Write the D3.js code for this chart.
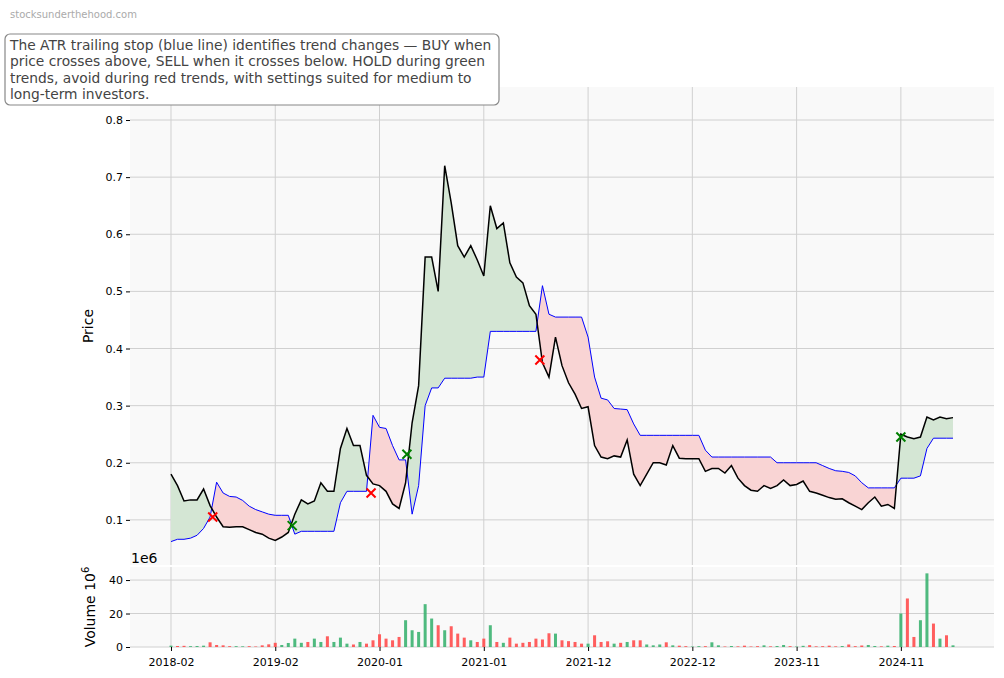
<!DOCTYPE html>
<html>
<head>
<meta charset="utf-8">
<script src="https://cdn.jsdelivr.net/npm/d3@7"></script>
<style>
  body { margin: 0; background: #fff; font-family: "DejaVu Sans", sans-serif; }
</style>
</head>
<body>
<script>
// one point every 3 weeks, index 0 = 2018-02
const price = [0.18,0.16,0.133,0.135,0.135,0.154,0.125,0.105,0.088,0.087,
  0.088,0.088,0.083,0.078,0.075,0.068,0.064,0.07,0.078,0.11,
  0.135,0.128,0.133,0.165,0.15,0.15,0.225,0.26,0.23,0.23,
  0.178,0.163,0.16,0.15,0.128,0.12,0.165,0.27,0.335,0.56,
  0.56,0.5,0.72,0.655,0.58,0.56,0.58,0.555,0.527,0.65,
  0.61,0.62,0.55,0.525,0.515,0.475,0.46,0.375,0.35,0.42,
  0.37,0.34,0.32,0.295,0.298,0.23,0.21,0.207,0.212,0.21,
  0.24,0.18,0.16,0.18,0.2,0.2,0.196,0.23,0.208,0.207,
  0.207,0.207,0.185,0.19,0.19,0.182,0.195,0.173,0.16,0.152,
  0.15,0.16,0.155,0.16,0.17,0.16,0.162,0.168,0.15,0.147,
  0.143,0.139,0.136,0.137,0.13,0.124,0.118,0.13,0.14,0.124,
  0.127,0.12,0.25,0.245,0.242,0.245,0.28,0.275,0.28,0.277,0.279];

const stop = [0.062,0.066,0.066,0.068,0.073,0.085,0.105,0.166,0.147,0.141,
  0.14,0.134,0.124,0.118,0.114,0.11,0.108,0.108,0.108,0.075,
  0.08,0.08,0.08,0.08,0.08,0.08,0.13,0.15,0.15,0.15,
  0.15,0.283,0.262,0.26,0.23,0.205,0.205,0.11,0.16,0.3,
  0.331,0.331,0.348,0.348,0.348,0.348,0.348,0.35,0.35,0.43,
  0.43,0.43,0.43,0.43,0.43,0.43,0.43,0.51,0.46,0.455,
  0.455,0.455,0.455,0.455,0.42,0.35,0.313,0.31,0.295,0.294,
  0.293,0.268,0.248,0.248,0.248,0.248,0.248,0.248,0.248,0.248,
  0.248,0.248,0.222,0.21,0.21,0.21,0.21,0.21,0.21,0.21,
  0.21,0.21,0.21,0.2,0.2,0.2,0.2,0.2,0.2,0.2,
  0.195,0.19,0.186,0.185,0.183,0.177,0.165,0.156,0.156,0.156,
  0.156,0.156,0.173,0.173,0.173,0.177,0.225,0.243,0.243,0.243,0.243];

// volume in millions
const volume = [0.8,0.6,0.7,0.5,0.6,0.8,2.8,1.2,1,0.5,
  0.5,0.4,0.5,0.3,1,1.6,2.5,1.2,2.4,5,
  2.5,3,5,3,6.4,3,5.6,2,1.5,3,
  2,4,7.6,5,4,6,16,10,9,25.6,
  17,13,10,12.4,8,5.6,4,3,5,13,
  3,2.5,5.6,2,2.5,3,5,4.5,8.2,8,
  4,3.5,3,2,2,7,3,3.4,2,2.5,
  3,4,4,1.5,1,1.5,2.8,1,0.8,0.5,
  0.3,0.5,0.5,2.8,1,0.3,0.6,0.4,0.8,0.3,
  0.5,1,0.4,0.6,1.2,0.5,0.3,0.7,1.1,0.4,
  0.5,0.8,0.4,0.6,1.5,0.5,0.9,1.2,0.6,0.4,
  0.8,0.6,20,29,6,16,44,14,5,7,1];

const buys = [[18.6, 0.09], [36.2, 0.215], [112, 0.245]];
const sells = [[6.4, 0.105], [30.7, 0.147], [56.6, 0.38]];

const tickIdx = [0, 16, 32, 48, 64, 80, 96, 112];
const tickLabels = ["2018-02","2019-02","2020-01","2021-01","2021-12","2022-12","2023-11","2024-11"];
const priceTicks = [0.1,0.2,0.3,0.4,0.5,0.6,0.7,0.8];
const volTicks = [0, 20, 40];

const W = 1004, H = 678;
const L = 130, R = 994;
const svg = d3.select("body").append("svg").attr("width", W).attr("height", H);

const x = d3.scaleLinear().domain([-6.29, 126.29]).range([L, R]);
const y = d3.scaleLinear().domain([0.0210, 0.8578]).range([565, 87]);
const yv = d3.scaleLinear().domain([0, 47.8]).range([647, 567]);

// panels
svg.append("rect").attr("x", L).attr("y", 87).attr("width", R - L).attr("height", 478).attr("fill", "#f9f9f9");
svg.append("rect").attr("x", L).attr("y", 567).attr("width", R - L).attr("height", 80).attr("fill", "#f9f9f9");

const grid = svg.append("g").attr("stroke", "#d0d0d0").attr("stroke-width", 1);
tickIdx.forEach(t => {
  grid.append("line").attr("x1", x(t)).attr("x2", x(t)).attr("y1", 87).attr("y2", 565);
  grid.append("line").attr("x1", x(t)).attr("x2", x(t)).attr("y1", 567).attr("y2", 647);
});
priceTicks.forEach(t => grid.append("line").attr("x1", L).attr("x2", R).attr("y1", y(t)).attr("y2", y(t)));
volTicks.forEach(t => grid.append("line").attr("x1", L).attr("x2", R).attr("y1", yv(t)).attr("y2", yv(t)));

// fills between price and stop
const idx = d3.range(price.length);
const between = d3.area().x(i => x(i)).y0(i => y(stop[i])).y1(i => y(price[i]));
const defs = svg.append("defs");
defs.append("clipPath").attr("id", "above").append("path")
  .attr("d", d3.area().x(i => x(i)).y0(i => y(stop[i])).y1(0)(idx));
defs.append("clipPath").attr("id", "below").append("path")
  .attr("d", d3.area().x(i => x(i)).y0(i => y(stop[i])).y1(H)(idx));
svg.append("path").attr("d", between(idx)).attr("fill", "#d4e6d4").attr("clip-path", "url(#above)");
svg.append("path").attr("d", between(idx)).attr("fill", "#f9d4d4").attr("clip-path", "url(#below)");

const line = arr => d3.line().x(i => x(i)).y(i => y(arr[i]))(idx);
svg.append("path").attr("d", line(stop)).attr("fill", "none").attr("stroke", "#0000ff").attr("stroke-width", 1);
svg.append("path").attr("d", line(price)).attr("fill", "none").attr("stroke", "#000").attr("stroke-width", 1.5);

function cross(g, d, color) {
  const cx = x(d[0]), cy = y(d[1]), s = 4.5;
  g.append("path").attr("d", `M${cx - s},${cy - s}L${cx + s},${cy + s}M${cx - s},${cy + s}L${cx + s},${cy - s}`)
    .attr("stroke", color).attr("stroke-width", 2);
}
const mk = svg.append("g");
buys.forEach(d => cross(mk, d, "#008000"));
sells.forEach(d => cross(mk, d, "#ff0000"));

// volume bars
svg.append("g").selectAll("rect").data(idx).join("rect")
  .attr("x", i => x(i) - 1.5).attr("width", 3)
  .attr("y", i => yv(volume[i])).attr("height", i => yv(0) - yv(volume[i]))
  .attr("fill", i => (i === 0 || price[i] >= price[i - 1]) ? "#3cb371" : "#ff4d4d")
  .attr("opacity", 0.9);

// axes
const yAxis = d3.axisLeft(y).tickValues(priceTicks).tickSize(4).tickFormat(d3.format(".1f"));
const ga = svg.append("g").attr("transform", `translate(${L},0)`).call(yAxis);
const gv = svg.append("g").attr("transform", `translate(${L},0)`).call(d3.axisLeft(yv).tickValues(volTicks).tickSize(4));
const gx = svg.append("g").attr("transform", `translate(0,647)`)
  .call(d3.axisBottom(x).tickValues(tickIdx).tickSize(4).tickFormat((d, i) => tickLabels[i]));
[ga, gv, gx].forEach(g => {
  g.select(".domain").remove();
  g.selectAll("text").attr("font-size", 11).attr("fill", "#000").attr("font-family", "DejaVu Sans");
  g.selectAll("line").attr("stroke", "#000");
});
gx.selectAll("text").attr("dy", "1.1em");

svg.append("text").attr("transform", "translate(93,326) rotate(-90)").attr("text-anchor", "middle")
  .attr("font-size", 14).text("Price");
const vl = svg.append("text").attr("transform", "translate(95,607) rotate(-90)").attr("text-anchor", "middle")
  .attr("font-size", 14);
vl.append("tspan").text("Volume  10");
vl.append("tspan").attr("font-size", 10).attr("dy", -6).text("6");
svg.append("text").attr("x", 131).attr("y", 563).attr("font-size", 14).text("1e6");

// title box and watermark
svg.append("text").attr("x", 10).attr("y", 18).attr("font-size", 10).attr("fill", "#aaa").text("stocksunderthehood.com");
svg.append("rect").attr("x", 5).attr("y", 34).attr("width", 494).attr("height", 71).attr("rx", 5)
  .attr("fill", "#fff").attr("stroke", "#888").attr("stroke-width", 1.2);
const lines = ["The ATR trailing stop (blue line) identifies trend changes — BUY when",
  "price crosses above, SELL when it crosses below. HOLD during green",
  "trends, avoid during red trends, with settings suited for medium to",
  "long-term investors."];
svg.append("g").selectAll("text").data(lines).join("text")
  .attr("x", 10).attr("y", (d, i) => 50 + i * 16.3).attr("font-size", 13.8).attr("fill", "#444").text(d => d);
</script>
</body>
</html>
